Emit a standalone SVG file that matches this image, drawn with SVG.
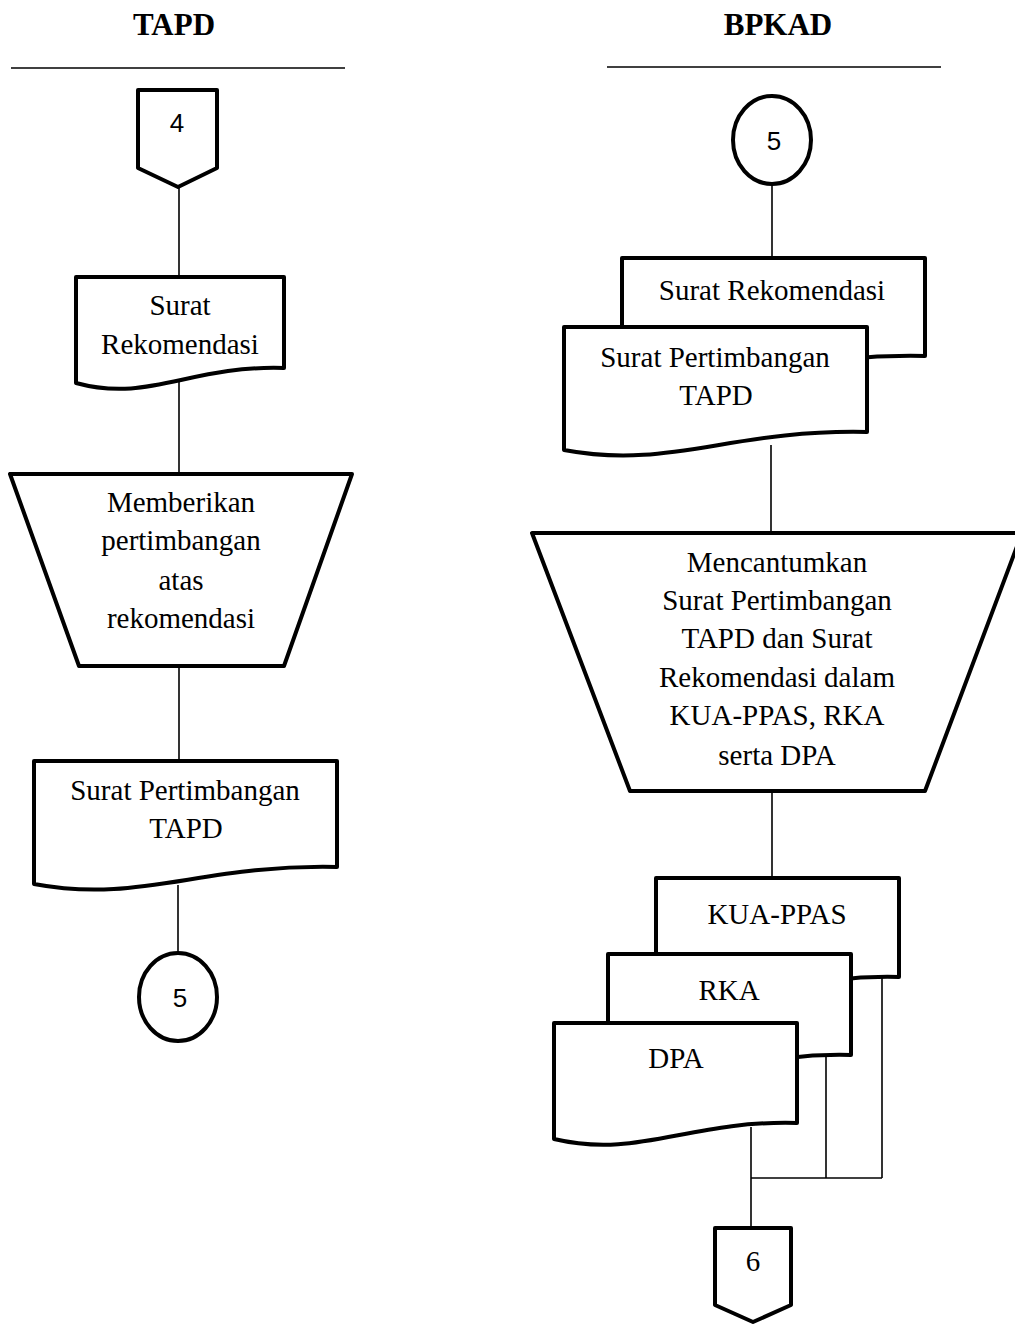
<svg xmlns="http://www.w3.org/2000/svg" width="1015" height="1324" viewBox="0 0 1015 1324">
  <style>
    .title { font-family: "Liberation Serif", "Times New Roman", serif; font-size: 31px; font-weight: bold; text-anchor: middle; fill: #000; }
    .lbl { font-family: "Liberation Serif", "Times New Roman", serif; font-size: 29px; text-anchor: middle; fill: #000; }
    .num { font-family: "Liberation Sans", Arial, sans-serif; font-size: 26px; text-anchor: middle; fill: #000; }
    .shape { fill: #fff; stroke: #000; stroke-width: 4; stroke-linejoin: round; }
    .conn { fill: none; stroke: #000; stroke-width: 1.6; }
    .rule { stroke: #000; stroke-width: 1.6; }
  </style>
  <rect x="0" y="0" width="1015" height="1324" fill="#fff"/>

  <!-- lane headers -->
  <g id="lane-tapd">
    <text class="title" x="174" y="35">TAPD</text>
    <line class="rule" x1="11" y1="68" x2="345" y2="68"/>
  </g>
  <g id="lane-bpkad">
    <text class="title" x="778" y="35">BPKAD</text>
    <line class="rule" x1="607" y1="67" x2="941" y2="67"/>
  </g>

  <!-- connectors (drawn first so node fills cover their ends) -->
  <g id="connectors">
    <line class="conn" x1="179" y1="187" x2="179" y2="277"/>
    <line class="conn" x1="179" y1="378" x2="179" y2="474"/>
    <line class="conn" x1="179" y1="666" x2="179" y2="761"/>
    <line class="conn" x1="178" y1="885" x2="178" y2="953"/>
    <line class="conn" x1="772" y1="184" x2="772" y2="258"/>
    <line class="conn" x1="771" y1="445" x2="771" y2="533"/>
    <line class="conn" x1="772" y1="791" x2="772" y2="878"/>
    <line class="conn" x1="751" y1="1127" x2="751" y2="1228"/>
    <line class="conn" x1="751" y1="1178" x2="882" y2="1178"/>
    <line class="conn" x1="826" y1="1057" x2="826" y2="1178"/>
    <line class="conn" x1="882" y1="978" x2="882" y2="1178"/>
  </g>

  <!-- TAPD lane -->
  <g id="offpage-4">
    <path class="shape" d="M138,90 L217,90 L217,168 L178,187 L138,168 Z"/>
    <text class="num" x="177" y="132">4</text>
  </g>
  <g id="doc-surat-rekomendasi-tapd">
    <path class="shape" d="M76,277 L284,277 L284,368 C190,365 149,403 76,383 Z"/>
    <text class="lbl" x="180" y="315">Surat</text>
    <text class="lbl" x="180" y="354">Rekomendasi</text>
  </g>
  <g id="proc-memberikan-pertimbangan">
    <path class="shape" d="M10,474 L352,474 L284,666 L79,666 Z"/>
    <text class="lbl" x="181" y="512">Memberikan</text>
    <text class="lbl" x="181" y="550">pertimbangan</text>
    <text class="lbl" x="181" y="590">atas</text>
    <text class="lbl" x="181" y="628">rekomendasi</text>
  </g>
  <g id="doc-surat-pertimbangan-tapd">
    <path class="shape" d="M34,761 L337,761 L337,867 C201,864 140,904 34,884 Z"/>
    <text class="lbl" x="185" y="800">Surat Pertimbangan</text>
    <text class="lbl" x="186" y="838">TAPD</text>
  </g>
  <g id="connector-5-out">
    <ellipse class="shape" cx="178" cy="997" rx="39" ry="44"/>
    <text class="num" x="180" y="1007">5</text>
  </g>

  <!-- BPKAD lane -->
  <g id="connector-5-in">
    <ellipse class="shape" cx="772" cy="140" rx="39" ry="44"/>
    <text class="num" x="774" y="150">5</text>
  </g>
  <g id="doc-surat-rekomendasi-bpkad">
    <path class="shape" d="M622,258 L925,258 L925,356 C789,353 728,392 622,372 Z"/>
    <text class="lbl" x="772" y="300">Surat Rekomendasi</text>
  </g>
  <g id="doc-surat-pertimbangan-bpkad">
    <path class="shape" d="M564,327 L867,327 L867,432 C731,429 670,470 564,450 Z"/>
    <text class="lbl" x="715" y="367">Surat Pertimbangan</text>
    <text class="lbl" x="716" y="405">TAPD</text>
  </g>
  <g id="proc-mencantumkan">
    <path class="shape" d="M532,533 L1022,533 L925,791 L630,791 Z"/>
    <text class="lbl" x="777" y="572">Mencantumkan</text>
    <text class="lbl" x="777" y="610">Surat Pertimbangan</text>
    <text class="lbl" x="777" y="648">TAPD dan Surat</text>
    <text class="lbl" x="777" y="687">Rekomendasi dalam</text>
    <text class="lbl" x="777" y="725">KUA-PPAS, RKA</text>
    <text class="lbl" x="777" y="765">serta DPA</text>
  </g>
  <g id="doc-kua-ppas">
    <path class="shape" d="M656,878 L899,878 L899,977 C790,974 741,1013 656,993 Z"/>
    <text class="lbl" x="777" y="924">KUA-PPAS</text>
  </g>
  <g id="doc-rka">
    <path class="shape" d="M608,954 L851,954 L851,1055 C742,1052 693,1091 608,1071 Z"/>
    <text class="lbl" x="729" y="1000">RKA</text>
  </g>
  <g id="doc-dpa">
    <path class="shape" d="M554,1023 L797,1023 L797,1123 C688,1120 639,1159 554,1139 Z"/>
    <text class="lbl" x="676" y="1068">DPA</text>
  </g>
  <g id="offpage-6">
    <path class="shape" d="M715,1228 L791,1228 L791,1305 L753,1322 L715,1305 Z"/>
    <text class="lbl" x="753" y="1271">6</text>
  </g>
</svg>
